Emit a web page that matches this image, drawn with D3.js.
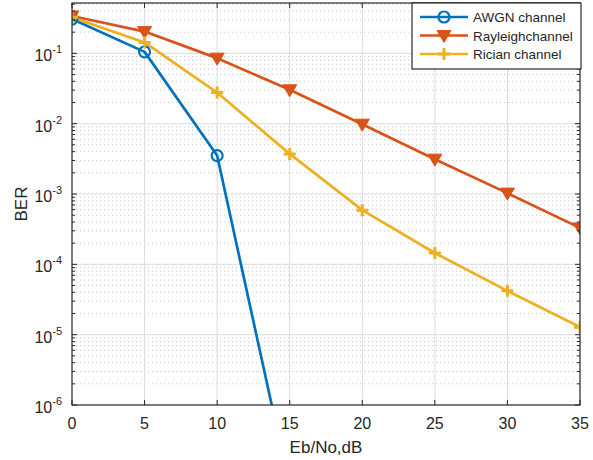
<!DOCTYPE html>
<html lang="en">
<head>
    <meta charset="UTF-8">
    <title>BER vs Eb/No</title>
    <script src="https://d3js.org/d3.v7.min.js"></script>
    <style>
        body {
            margin: 0;
            background: #fff;
            font-family: "Liberation Sans", Arial, sans-serif;
        }
        svg text {
            fill: #262626;
        }
    </style>
</head>
<body>
    <div id="chart"></div>

    <script>
        // Eb/No values (dB)
        const ebno = [0, 5, 10, 15, 20, 25, 30, 35];
        // AWGN falls off the bottom of the plot after 10 dB
        const awgn = [0.307, 0.105, 0.00352, 6.8e-8];
        const rayleigh = [0.34, 0.204, 0.0855, 0.0303, 0.00984, 0.00313, 0.00103, 0.00033];
        const rician = [0.325, 0.143, 0.0277, 0.00372, 0.00059, 0.000145, 0.000042, 0.0000128];
        const seriesNames = ["AWGN channel", "Rayleighchannel", "Rician channel"];
        const xTicks = [0, 5, 10, 15, 20, 25, 30, 35];
        const yTickExp = [-1, -2, -3, -4, -5, -6];

        const W = 593, H = 460;
        const margin = { top: 3, right: 13, bottom: 55, left: 72 },
            width = W - margin.left - margin.right,
            height = H - margin.top - margin.bottom;

        const colors = ["#0072BD", "#D95319", "#EDB120"];
        const axisColor = "#262626";

        const svg = d3.select("#chart").append("svg")
            .attr("width", W)
            .attr("height", H);

        const g = svg.append("g")
            .attr("transform", `translate(${margin.left},${margin.top})`);

        const x = d3.scaleLinear().domain([0, 35]).range([0, width]);
        const y = d3.scaleLog().domain([1e-6, 0.52]).range([height, 0]);

        // minor grid (log decades 2..9)
        const minor = [];
        for (let e = -6; e <= 0; e++) {
            for (let k = 2; k <= 9; k++) {
                const v = k * Math.pow(10, e);
                if (v > 1e-6 && v < 0.52) minor.push(v);
            }
        }
        g.append("g").selectAll("line")
            .data(minor)
            .enter().append("line")
            .attr("x1", 0).attr("x2", width)
            .attr("y1", d => y(d)).attr("y2", d => y(d))
            .attr("stroke", "#c8c8c8")
            .attr("stroke-width", 1)
            .attr("stroke-dasharray", "1,3");

        // major grid
        g.append("g").selectAll("line")
            .data(yTickExp.slice(0, -1))
            .enter().append("line")
            .attr("x1", 0).attr("x2", width)
            .attr("y1", d => y(Math.pow(10, d))).attr("y2", d => y(Math.pow(10, d)))
            .attr("stroke", "#dcdcdc");
        g.append("g").selectAll("line")
            .data(xTicks.slice(1, -1))
            .enter().append("line")
            .attr("x1", d => x(d)).attr("x2", d => x(d))
            .attr("y1", 0).attr("y2", height)
            .attr("stroke", "#dcdcdc");

        // clip for the data
        svg.append("defs").append("clipPath")
            .attr("id", "clip")
            .append("rect")
            .attr("width", width)
            .attr("height", height);

        const lineGen = d3.line()
            .x((d, i) => x(ebno[i]))
            .y(d => y(d));

        const allSeries = [awgn, rayleigh, rician];
        const plot = g.append("g").attr("clip-path", "url(#clip)");

        allSeries.forEach((s, i) => {
            plot.append("path")
                .datum(s)
                .attr("d", lineGen)
                .attr("fill", "none")
                .attr("stroke", colors[i])
                .attr("stroke-width", 2.7)
                .attr("stroke-linejoin", "round");
        });

        function drawMarker(sel, type, color) {
            if (type === 0) {
                sel.append("circle")
                    .attr("r", 5.5)
                    .attr("fill", "none")
                    .attr("stroke", color)
                    .attr("stroke-width", 2.2);
            } else if (type === 1) {
                sel.append("path")
                    .attr("d", "M-7,-5 L7,-5 L0,7 Z")
                    .attr("fill", color)
                    .attr("stroke", color)
                    .attr("stroke-width", 1);
            } else {
                sel.append("path")
                    .attr("d", "M-6,0 L6,0 M0,-6 L0,6")
                    .attr("stroke", color)
                    .attr("stroke-width", 3);
            }
        }

        allSeries.forEach((s, i) => {
            plot.selectAll(".m" + i)
                .data(s.filter(v => v >= 1e-6))
                .enter().append("g")
                .attr("class", "m" + i)
                .attr("transform", (d, j) => `translate(${x(ebno[j])},${y(d)})`)
                .each(function () { drawMarker(d3.select(this), i, colors[i]); });
        });

        // box
        g.append("rect")
            .attr("width", width)
            .attr("height", height)
            .attr("fill", "none")
            .attr("stroke", axisColor)
            .attr("stroke-width", 1.2);

        // ticks, inward, on all four sides
        const ticks = g.append("g").attr("stroke", axisColor).attr("stroke-width", 1);
        xTicks.forEach(t => {
            ticks.append("line").attr("x1", x(t)).attr("x2", x(t)).attr("y1", height).attr("y2", height - 5);
            ticks.append("line").attr("x1", x(t)).attr("x2", x(t)).attr("y1", 0).attr("y2", 5);
        });
        yTickExp.forEach(e => {
            const yy = y(Math.pow(10, e));
            ticks.append("line").attr("x1", 0).attr("x2", 5).attr("y1", yy).attr("y2", yy);
            ticks.append("line").attr("x1", width).attr("x2", width - 5).attr("y1", yy).attr("y2", yy);
        });
        minor.forEach(v => {
            ticks.append("line").attr("x1", 0).attr("x2", 3).attr("y1", y(v)).attr("y2", y(v));
            ticks.append("line").attr("x1", width).attr("x2", width - 3).attr("y1", y(v)).attr("y2", y(v));
        });

        // x tick labels
        g.append("g").selectAll("text")
            .data(xTicks)
            .enter().append("text")
            .attr("x", d => x(d))
            .attr("y", height + 24)
            .attr("text-anchor", "middle")
            .style("font-size", "16px")
            .text(d => d);

        // y tick labels: 10^e
        const yl = g.append("g").selectAll("text")
            .data(yTickExp)
            .enter().append("text")
            .attr("x", -10)
            .attr("y", d => y(Math.pow(10, d)) + 8)
            .attr("text-anchor", "end")
            .style("font-size", "16px");
        yl.append("tspan").text("10");
        yl.append("tspan")
            .attr("dy", -8)
            .style("font-size", "11px")
            .text(d => String(d).replace("-", "-"));

        // axis titles
        g.append("text")
            .attr("x", width / 2)
            .attr("y", height + 48)
            .attr("text-anchor", "middle")
            .style("font-size", "17px")
            .text("Eb/No,dB");

        g.append("text")
            .attr("transform", `translate(${-45},${height / 2}) rotate(-90)`)
            .attr("text-anchor", "middle")
            .style("font-size", "17px")
            .text("BER");

        // legend
        const lg = svg.append("g").attr("transform", "translate(412,3)");
        lg.append("rect")
            .attr("width", 169)
            .attr("height", 66)
            .attr("fill", "#fff")
            .attr("stroke", "#000")
            .attr("stroke-width", 1);
        seriesNames.forEach((name, i) => {
            const row = lg.append("g").attr("transform", `translate(0,${14 + i * 18.5})`);
            row.append("line")
                .attr("x1", 8).attr("x2", 56)
                .attr("stroke", colors[i])
                .attr("stroke-width", 2.7);
            const mk = row.append("g").attr("transform", "translate(32,0)");
            drawMarker(mk, i, colors[i]);
            row.append("text")
                .attr("x", 61)
                .attr("y", 5)
                .style("font-size", "13.5px")
                .text(name);
        });
    </script>
</body>
</html>
